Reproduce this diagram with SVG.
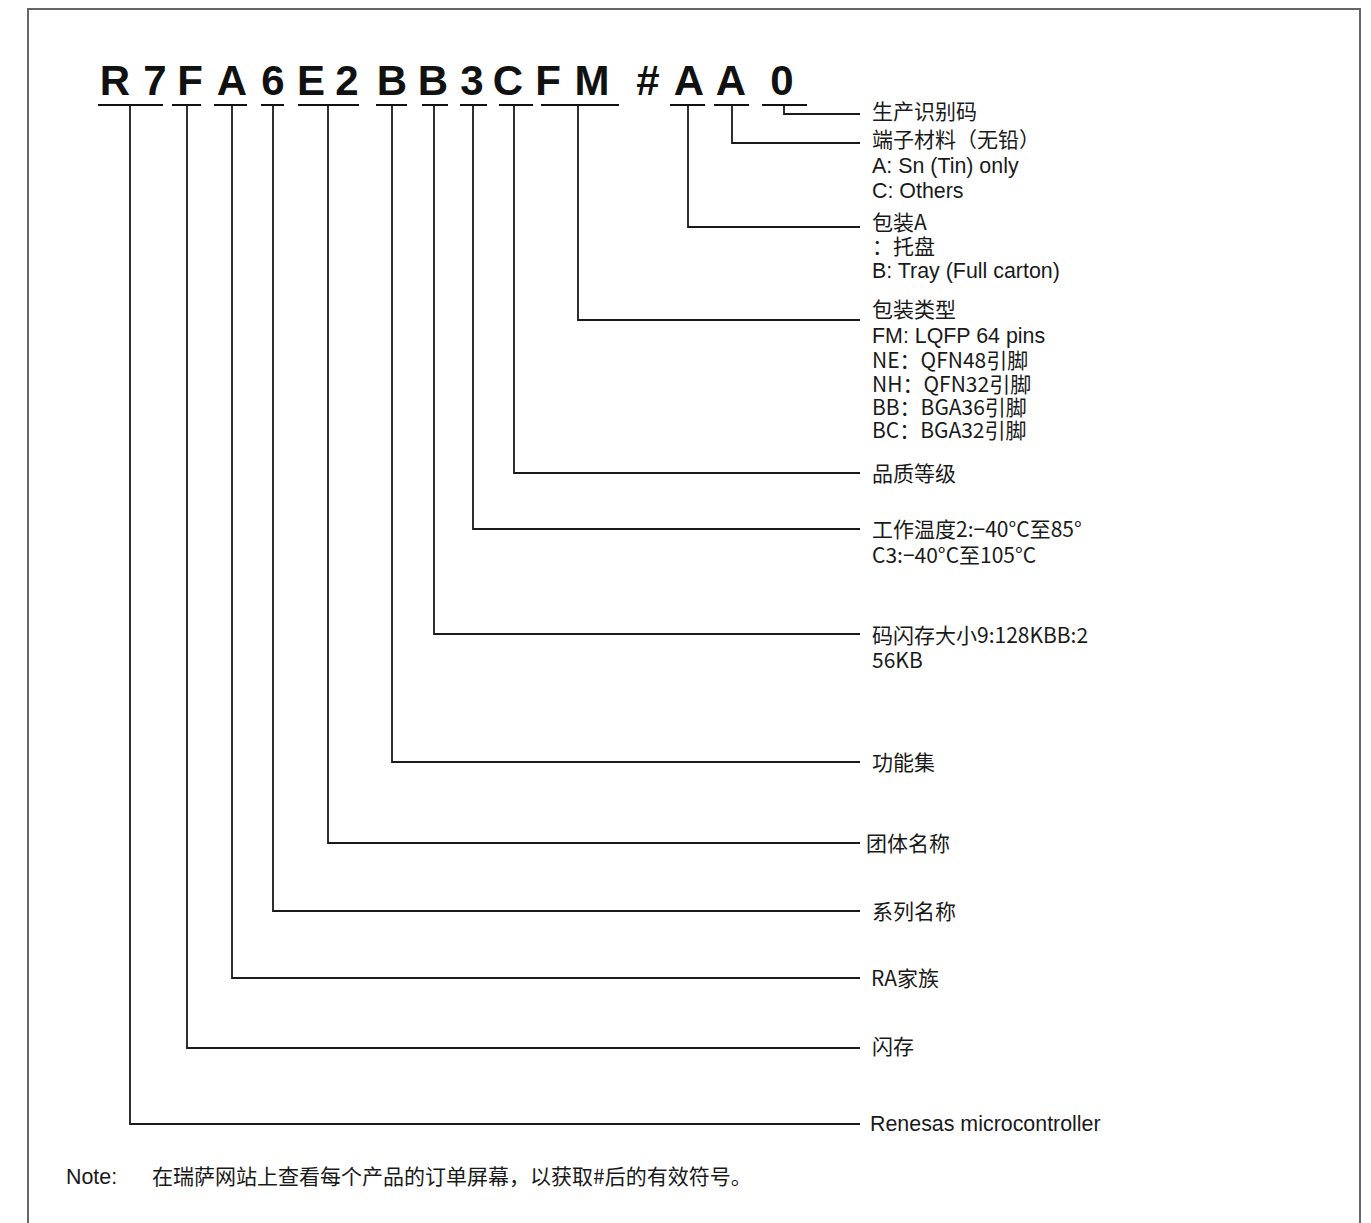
<svg xmlns="http://www.w3.org/2000/svg" width="1371" height="1223" viewBox="0 0 1371 1223">
<style>
.code{font-family:"Liberation Sans",Arial,sans-serif;font-weight:bold;font-size:42px;fill:#111;text-anchor:middle}
.lat{font-family:"Liberation Sans",Arial,"Noto Sans CJK SC",sans-serif;font-size:21.4px;fill:#1a1a1a}
.cjk{font-family:"Noto Sans CJK SC","Noto Sans",sans-serif;font-size:21px;fill:#1a1a1a}
.ul{stroke:#111;stroke-width:2;fill:none}
.con{stroke:#1a1a1a;stroke-width:1.8;fill:none}
</style>
<rect width="1371" height="1223" fill="#fff"/>
<rect id="frame" x="28" y="9" width="1332" height="1240" fill="none" stroke="#666" stroke-width="2"/>
<g id="code">
<text class="code" x="115" y="95">R</text>
<text class="code" x="155" y="95">7</text>
<text class="code" x="190" y="95">F</text>
<text class="code" x="232" y="95">A</text>
<text class="code" x="273" y="95">6</text>
<text class="code" x="311" y="95">E</text>
<text class="code" x="347" y="95">2</text>
<text class="code" x="392" y="95">B</text>
<text class="code" x="433" y="95">B</text>
<text class="code" x="472" y="95">3</text>
<text class="code" x="508" y="95">C</text>
<text class="code" x="548" y="95">F</text>
<text class="code" x="592" y="95">M</text>
<text class="code" x="648" y="95">#</text>
<text class="code" x="689" y="95">A</text>
<text class="code" x="731" y="95">A</text>
<text class="code" x="782" y="95">0</text>
</g>
<g id="connectors">
<path class="ul" d="M98 105H163M172 105H201M214 105H247M261 105H284M298 105H359M376 105H407M422 105H448M460 105H487M499 105H533M541 105H619M670 105H705M714 105H749M762 105H807"/>
<path class="con" d="M784 105V114H860"/>
<path class="con" d="M732 105V143H860"/>
<path class="con" d="M688 105V227H860"/>
<path class="con" d="M578 105V320H860"/>
<path class="con" d="M514 105V473H860"/>
<path class="con" d="M473 105V529H860"/>
<path class="con" d="M434 105V634H860"/>
<path class="con" d="M392 105V762H860"/>
<path class="con" d="M328 105V843H860"/>
<path class="con" d="M273 105V911H860"/>
<path class="con" d="M232 105V978H860"/>
<path class="con" d="M187 105V1048H860"/>
<path class="con" d="M130 105V1124H860"/>
</g>
<g id="label-production"><text class="cjk" x="872" y="119">生产识别码</text></g>
<g id="label-terminal">
<text class="cjk" x="872" y="147">端子材料（无铅）</text>
<text class="lat" x="872" y="173">A: Sn (Tin) only</text>
<text class="lat" x="872" y="198">C: Others</text>
</g>
<g id="label-packing">
<text class="cjk" x="872" y="230">包装A</text>
<text class="cjk" x="872" y="254">：托盘</text>
<text class="lat" x="872" y="278">B: Tray (Full carton)</text>
</g>
<g id="label-package">
<text class="cjk" x="872" y="317">包装类型</text>
<text class="lat" x="872" y="343">FM: LQFP 64 pins</text>
<text class="cjk" x="872" y="368">NE：QFN48引脚</text>
<text class="cjk" x="872" y="392">NH：QFN32引脚</text>
<text class="cjk" x="872" y="415">BB：BGA36引脚</text>
<text class="cjk" x="872" y="438">BC：BGA32引脚</text>
</g>
<g id="label-quality"><text class="cjk" x="872" y="481">品质等级</text></g>
<g id="label-temp">
<text class="cjk" x="872" y="537">工作温度2:−40°C至85°</text>
<text class="cjk" x="872" y="563">C3:−40°C至105°C</text>
</g>
<g id="label-flash-size">
<text class="cjk" x="872" y="643">码闪存大小9:128KBB:2</text>
<text class="cjk" x="872" y="668">56KB</text>
</g>
<g id="label-feature"><text class="cjk" x="872" y="770">功能集</text></g>
<g id="label-group"><text class="cjk" x="866" y="851">团体名称</text></g>
<g id="label-series"><text class="cjk" x="872" y="919">系列名称</text></g>
<g id="label-family"><text class="cjk" x="871" y="986">RA家族</text></g>
<g id="label-flash"><text class="cjk" x="872" y="1054">闪存</text></g>
<g id="label-renesas"><text class="lat" x="870" y="1131">Renesas microcontroller</text></g>
<g id="note">
<text class="lat" x="66" y="1184">Note:</text>
<text class="cjk" x="152" y="1184">在瑞萨网站上查看每个产品的订单屏幕，以获取#后的有效符号。</text>
</g>
</svg>
